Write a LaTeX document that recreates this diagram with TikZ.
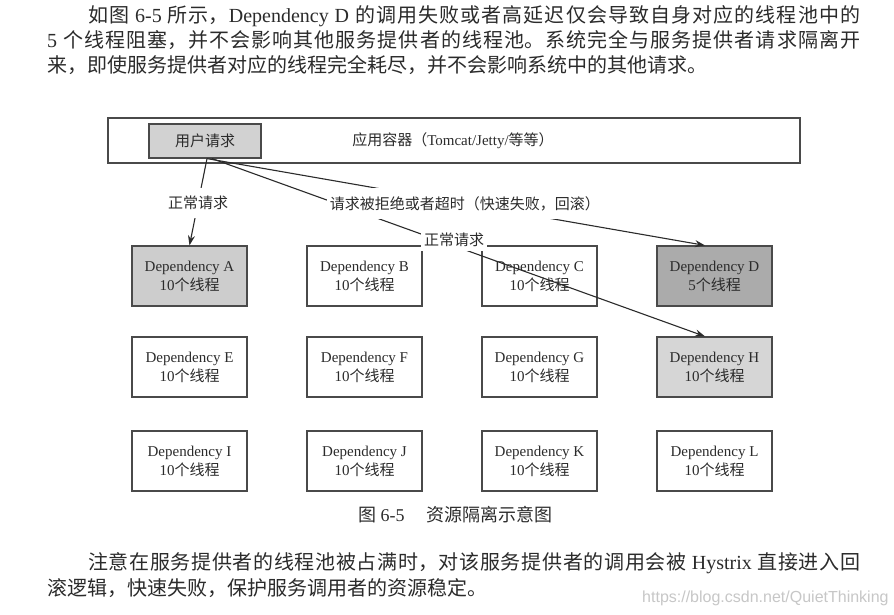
\documentclass[tikz,border=0pt]{standalone}
\usepackage{fontspec}
\setmainfont{Liberation Serif}
\newfontfamily\cjk{Noto Sans CJK SC}
\newfontfamily\wmfont{Liberation Sans}
\usetikzlibrary{arrows.meta}
\XeTeXlinebreaklocale "zh"
\XeTeXlinebreakskip=0pt plus 3pt
\newcommand\zh[1]{{\cjk #1}}
\newcommand\jline[2]{\parbox[t]{#1}{\parindent=0pt\parfillskip=0pt\relax #2}}
\definecolor{ink}{HTML}{2B2B2B}
\definecolor{edge}{HTML}{4A4A4A}
\definecolor{fillU}{HTML}{D2D2D2}
\definecolor{fillA}{HTML}{CDCDCD}
\definecolor{fillD}{HTML}{ABABAB}
\definecolor{fillH}{HTML}{D6D6D6}
\tikzset{
  body/.style={anchor=base west, inner sep=0pt, text=ink, font=\fontsize{20}{25}\selectfont},
  dep/.style={draw=edge, line width=1.2pt, fill=white, minimum width=115pt, minimum height=60pt,
              inner sep=0pt, align=center, text=ink, font=\fontsize{15}{19}\selectfont},
  lbl/.style={fill=white, inner xsep=3pt, inner ysep=8pt, text=ink, font=\fontsize{15}{18}\selectfont},
  lbltight/.style={lbl, inner ysep=4.5pt},
  conn/.style={draw=ink, line width=1.1pt, -{Stealth[length=10pt,width=7pt]}},
}
\begin{document}
\begin{tikzpicture}[x=1pt,y=-1pt]
\fill[white] (0,0) rectangle (894,614);
\useasboundingbox (0,0) rectangle (894,614);

% top paragraph
\node[body] (p1) at (88,22.8) {\jline{772pt}{\zh{如图} 6-5 \zh{所示，}Dependency D \zh{的调用失败或者高延迟仅会导致自身对应的线程池中的}}};
\node[body] (p2) at (47,47.8) {\jline{813pt}{5 \zh{个线程阻塞，并不会影响其他服务提供者的线程池。系统完全与服务提供者请求隔离开}}};
\node[body] (p3) at (47,72.8) {\zh{来，即使服务提供者对应的线程完全耗尽，并不会影响系统中的其他请求。}};

% container
\node[draw=edge, line width=1.2pt, minimum width=692pt, minimum height=45pt, inner sep=0pt] (cont) at (454,140.5) {};
\node[text=ink, font=\fontsize{15}{18}\selectfont] (contlbl) at (453,141) {\zh{应用容器（}Tomcat/Jetty/\zh{等等）}};
\node[draw=edge, line width=1.2pt, fill=fillU, minimum width=112pt, minimum height=34pt, inner sep=0pt,
      text=ink, font=\fontsize{15}{18}\selectfont] (U) at (205,141) {\zh{用户请求}};

% dependency boxes
\node[dep, fill=fillA] (A) at (189.5,276) {Dependency A\\10\zh{个线程}};
\node[dep] (B) at (364.5,276) {Dependency B\\10\zh{个线程}};
\node[dep] (C) at (539.5,276) {Dependency C\\10\zh{个线程}};
\node[dep, fill=fillD] (D) at (714.5,276) {Dependency D\\5\zh{个线程}};
\node[dep] (E) at (189.5,367) {Dependency E\\10\zh{个线程}};
\node[dep] (F) at (364.5,367) {Dependency F\\10\zh{个线程}};
\node[dep] (G) at (539.5,367) {Dependency G\\10\zh{个线程}};
\node[dep, fill=fillH] (H) at (714.5,367) {Dependency H\\10\zh{个线程}};
\node[dep] (I) at (189.5,461) {Dependency I\\10\zh{个线程}};
\node[dep] (J) at (364.5,461) {Dependency J\\10\zh{个线程}};
\node[dep] (K) at (539.5,461) {Dependency K\\10\zh{个线程}};
\node[dep] (L) at (714.5,461) {Dependency L\\10\zh{个线程}};

% connectors
\draw[conn] ([xshift=7pt]U.south) -- node[lbltight, pos=0.491, yshift=6pt] (l3) {\zh{正常请求}} ([xshift=-9.5pt]H.north);
\draw[conn] ([xshift=2pt]U.south) -- node[lbl, pos=0.51] (l1) {\zh{正常请求}} (A.north);
\draw[conn] ([xshift=2pt]U.south) -- node[lbl, pos=0.518] (l2) {\zh{请求被拒绝或者超时（快速失败，回滚）}} ([xshift=-9.5pt]D.north);

% caption
\node[anchor=base west, inner sep=0pt, text=ink, font=\fontsize{18}{22}\selectfont] (cap) at (358,521.8) {\zh{图} 6-5\hspace{1.2em}\zh{资源隔离示意图}};

% bottom paragraph
\node[body] (q1) at (88,569.6) {\jline{772pt}{\zh{注意在服务提供者的线程池被占满时，对该服务提供者的调用会被} Hystrix \zh{直接进入回}}};
\node[body] (q2) at (47,595.6) {\zh{滚逻辑，快速失败，保护服务调用者的资源稳定。}};

% watermark
\node[anchor=base west, inner sep=0pt, text=black!22, font=\wmfont\fontsize{16}{16}\selectfont] (wm) at (642,602.7) {https://blog.csdn.net/QuietThinking};
\end{tikzpicture}
\end{document}
